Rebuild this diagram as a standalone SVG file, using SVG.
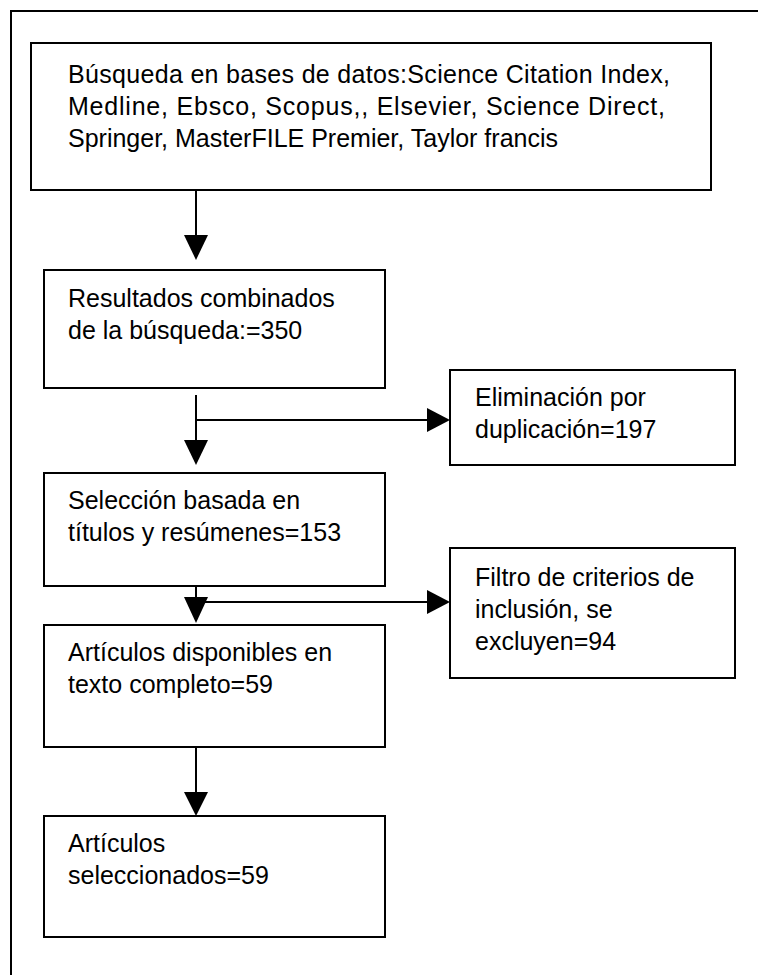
<svg xmlns="http://www.w3.org/2000/svg" width="758" height="975" viewBox="0 0 758 975">
<style>
.box{fill:#fff;stroke:#000;stroke-width:2}
.t{font-family:"Liberation Sans",Arial,Helvetica,sans-serif;font-size:25px;fill:#000}
.ln{stroke:#000;stroke-width:2;fill:none}
.ah{fill:#000}
</style>
<rect width="758" height="975" fill="#fff"/>
<path d="M11 990 V11 H770" class="ln"/>
<g id="n1">
<rect class="box" x="31" y="43" width="680" height="147"/>
<text class="t" x="68" y="83" textLength="602" lengthAdjust="spacing">Búsqueda en bases de datos:Science Citation Index,</text>
<text class="t" x="68" y="115" textLength="597" lengthAdjust="spacing">Medline, Ebsco, Scopus,, Elsevier, Science Direct,</text>
<text class="t" x="68" y="147">Springer, MasterFILE Premier, Taylor francis</text>
</g>
<g id="n2">
<rect class="box" x="44" y="270" width="341" height="118"/>
<text class="t" x="68" y="307">Resultados combinados</text>
<text class="t" x="68" y="339">de la búsqueda:=350</text>
</g>
<g id="n3">
<rect class="box" x="450" y="370" width="285" height="95"/>
<text class="t" x="475" y="406">Eliminación por</text>
<text class="t" x="475" y="438">duplicación=197</text>
</g>
<g id="n4">
<rect class="box" x="44" y="473" width="341" height="113"/>
<text class="t" x="68" y="509">Selección basada en</text>
<text class="t" x="68" y="541">títulos y resúmenes=153</text>
</g>
<g id="n5">
<rect class="box" x="450" y="548" width="285" height="130"/>
<text class="t" x="475" y="586">Filtro de criterios de</text>
<text class="t" x="475" y="618">inclusión, se</text>
<text class="t" x="475" y="650">excluyen=94</text>
</g>
<g id="n6">
<rect class="box" x="44" y="625" width="341" height="122"/>
<text class="t" x="68" y="661">Artículos disponibles en</text>
<text class="t" x="68" y="693">texto completo=59</text>
</g>
<g id="n7">
<rect class="box" x="44" y="816" width="341" height="121"/>
<text class="t" x="68" y="852">Artículos</text>
<text class="t" x="68" y="884">seleccionados=59</text>
</g>
<g id="connectors">
<path class="ln" d="M196 191 V236"/>
<polygon class="ah" points="184,235 208,235 196,260"/>
<path class="ln" d="M196 395 V441 M196 420 H428"/>
<polygon class="ah" points="184,440 208,440 196,465"/>
<polygon class="ah" points="427,408 427,432 450,420"/>
<path class="ln" d="M196 587 V598 M196 602 H428"/>
<polygon class="ah" points="184,597 208,597 196,623"/>
<polygon class="ah" points="427,590 427,614 450,602"/>
<path class="ln" d="M196 748 V793"/>
<polygon class="ah" points="184,792 208,792 196,816"/>
</g>
</svg>
